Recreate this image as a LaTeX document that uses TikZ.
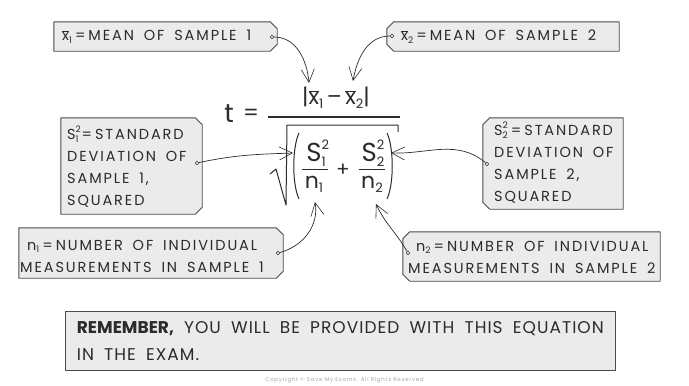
\documentclass[tikz,border=0pt]{standalone}
\usepackage{fontspec}
\setmainfont{Poppins}[LetterSpace=13]
\newfontfamily\eqf{Poppins}
\usetikzlibrary{arrows.meta,calc,fit,backgrounds}
\newcommand\lo[2]{\raisebox{-0.35ex}{\fontsize{#1}{#1}\selectfont #2}}
\newcommand\hilo[3]{\makebox[0pt][l]{\raisebox{0.85ex}{\fontsize{#1}{#1}\selectfont #2}}\raisebox{-0.35ex}{\fontsize{#1}{#1}\selectfont #3}}
\newcommand\xb{$\overline{\hbox{x}}$}
\newcommand\widesp{\spaceskip=0.68em\relax}
\newcommand\eqs{\hspace{3pt}=\hspace{3pt}}
\definecolor{boxfill}{HTML}{EBEBEB}
\definecolor{boxline}{HTML}{4A4A4A}
\definecolor{inkc}{HTML}{2B2B2B}
\tikzset{
  x=1pt,y=-1pt,
  boxst/.style={draw=boxline, fill=boxfill, line width=0.9pt, line join=round},
  area/.style={inner sep=0pt, draw=none},
  lbl/.style={anchor=west, inner sep=0pt, text=inkc, font=\fontsize{14.5}{22}\selectfont, align=left},
  dot/.style={circle, draw=inkc, fill=white, line width=0.5pt, inner sep=0pt, minimum size=3.5pt},
  arr/.style={draw=inkc, line width=0.7pt, -{Straight Barb[length=13pt,width=13pt,line width=0.6pt]}},
  eq/.style={inner sep=0pt, text=inkc},
  eqline/.style={draw=inkc, line width=1.1pt},
}
\newcommand\rbox[1]{\draw[boxst] (#1.north west) -- ($(#1.north east)+(-7,0)$) -- ($(#1.north east)+(0,7)$) -- ($(#1.south east)+(0,-7)$) -- ($(#1.south east)+(-7,0)$) -- (#1.south west) -- cycle;}
\newcommand\lbox[1]{\draw[boxst] (#1.north east) -- ($(#1.north west)+(7,0)$) -- ($(#1.north west)+(0,7)$) -- ($(#1.south west)+(0,-7)$) -- ($(#1.south west)+(7,0)$) -- (#1.south east) -- cycle;}
\begin{document}
\begin{tikzpicture}
\useasboundingbox (0,0) rectangle (689,386);
% box areas
\node[area, minimum width=223pt, minimum height=29pt] (b1) at (165.5,36.5) {};
\node[area, minimum width=232pt, minimum height=29pt] (b2) at (503,36.5) {};
\node[area, minimum width=141pt, minimum height=96pt] (b3) at (131.5,166) {};
\node[area, minimum width=140pt, minimum height=91pt] (b4) at (553,163.5) {};
\node[area, minimum width=264pt, minimum height=50pt] (b5) at (151,253) {};
\node[area, minimum width=257pt, minimum height=49pt] (b6) at (531.5,256.5) {};
\rbox{b1}
\lbox{b2}
\rbox{b3}
\lbox{b4}
\rbox{b5}
\lbox{b6}
% labels
\node[lbl] (t1) at (62,37) {\widesp\xb\lo{9}{1}\eqs MEAN  OF  SAMPLE 1};
\node[lbl] (t2) at (401,37) {\widesp\xb\lo{9}{2}\eqs MEAN  OF  SAMPLE 2};
\node[lbl] (t3) at (67,167) {\widesp S\hilo{9}{2}{1}\eqs STANDARD\\\widesp DEVIATION  OF\\\widesp SAMPLE  1,\\SQUARED};
\node[lbl] (t4) at (494,163) {\widesp S\hilo{9}{2}{2}\eqs STANDARD\\\widesp DEVIATION  OF\\\widesp SAMPLE  2,\\SQUARED};
\node[lbl] (t5) at (20,256) {\widesp\hspace*{7pt}n\lo{9}{1}\eqs NUMBER  OF  INDIVIDUAL\\\widesp MEASUREMENTS  IN  SAMPLE 1};
\node[lbl] (t6) at (408,257) {\widesp\hspace*{8pt}n\lo{9}{2}\eqs NUMBER  OF  INDIVIDUAL\\\widesp MEASUREMENTS  IN  SAMPLE 2};
\node[lbl, anchor=east, font=\fontsize{17}{27}\selectfont\addfontfeature{LetterSpace=6}] (t7) at (604,341) {\spaceskip=0.6em\relax{\addfontfeature{LetterSpace=0}\textbf{REMEMBER,}} YOU  WILL  BE  PROVIDED  WITH  THIS  EQUATION\\\spaceskip=0.6em\relax IN  THE  EXAM.\hfill\null};
\begin{scope}[on background layer]
\node[boxst, fit=(t7), inner xsep=11pt, inner ysep=0pt, minimum height=59pt] (b7) {};
\end{scope}
% dots
\node[dot] (d1) at (272,37) {};
\node[dot] (d2) at (392,36) {};
\node[dot] (d3) at (197,163) {};
\node[dot] (d4) at (487,164) {};
\node[dot] (d5) at (278,253) {};
\node[dot] (d6) at (408,253) {};
% equation
\node[eq, font=\eqf\fontsize{26}{26}\selectfont] (tt) at (229,114) {t};
\node[eq, font=\eqf\fontsize{22}{22}\selectfont] (eqn) at (251,115) {=};
\coordinate (fbL) at (268,117);
\coordinate (fbR) at (400,117);
\draw[eqline] (fbL) -- (fbR);
\node[eq, font=\eqf\fontsize{22}{22}\selectfont] (num) at (336,98) {|\xb\lo{13}{1}\,–\,\xb\lo{13}{2}|};
\coordinate (sq1) at (270,174);
\coordinate (sq2) at (276,169);
\coordinate (sq3) at (286,205);
\coordinate (sq4) at (287,125);
\coordinate (sq5) at (398,125);
\coordinate (sq6) at (398,132);
\draw[eqline, line width=1pt, line join=round] (sq1) -- (sq2) -- (sq3) -- (sq4) -- (sq5) -- (sq6);
\coordinate (lp1) at (299,133);
\coordinate (lp2) at (299,199);
\coordinate (rp1) at (387,133);
\coordinate (rp2) at (387,199);
\draw[eqline, line width=1pt] (lp1) .. controls (292,148) and (292,184) .. (lp2);
\draw[eqline, line width=1pt] (rp1) .. controls (394,148) and (394,184) .. (rp2);
\node[eq, font=\eqf\fontsize{26}{26}\selectfont] (s1) at (316,153) {S\hilo{13}{2}{1}};
\node[eq, font=\eqf\fontsize{22}{22}\selectfont] (n1) at (314,184) {n\lo{13}{1}};
\draw[eqline, line width=1pt] (302,169) -- (328,169);
\node[eq, font=\eqf\fontsize{20}{20}\selectfont] (plus) at (343,170) {+};
\node[eq, font=\eqf\fontsize{26}{26}\selectfont] (s2) at (373,153) {S\hilo{13}{2}{2}};
\node[eq, font=\eqf\fontsize{22}{22}\selectfont] (n2) at (372,184) {n\lo{13}{2}};
\draw[eqline, line width=1pt] (359,169) -- (385,169);
% arrow targets
\coordinate (e1) at (309,83);
\coordinate (e2) at (353,81);
\coordinate (e3) at (293,153);
\coordinate (e4) at (391,153);
\coordinate (e5) at (315,202);
\coordinate (e6) at (376,204);
\draw[arr] (d1) to[out=0,in=95] (e1);
\draw[arr] (d2) to[out=180,in=80] (e2);
\draw[arr] (d3) to[out=12,in=182] (e3);
\draw[arr] (d4) to[out=140,in=-2] (e4);
\draw[arr] (d5) to[out=15,in=-80] (e5);
\draw[arr] (d6) to[out=120,in=-65] (e6);
% copyright
\node[inner sep=0pt, text=gray!70, font=\fontsize{5.5}{6}\selectfont] (cp) at (344.5,380) {Copyright © Save My Exams. All Rights Reserved};
\end{tikzpicture}
\end{document}
